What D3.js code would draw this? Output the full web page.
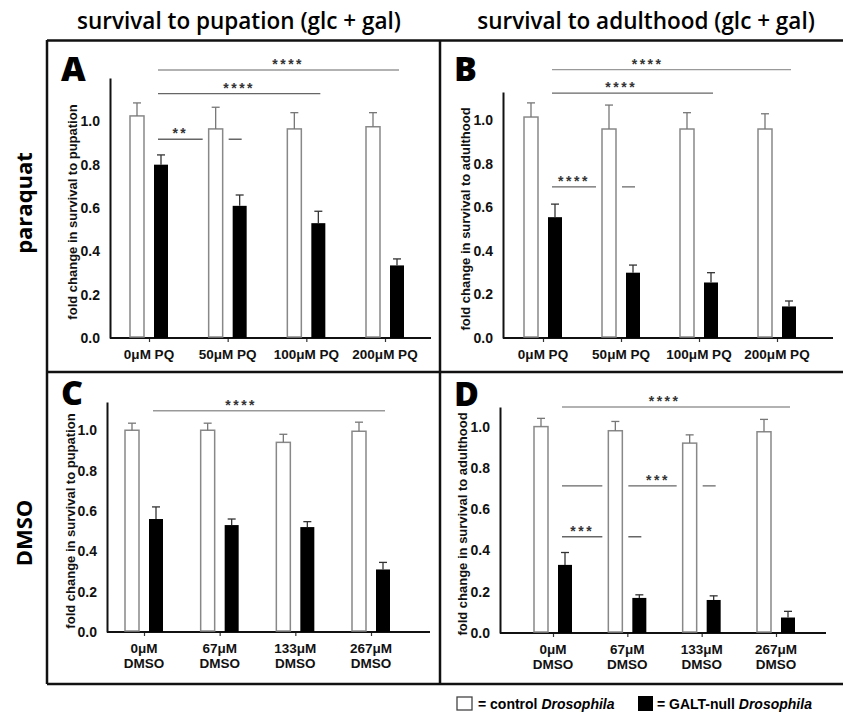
<!DOCTYPE html>
<html>
<head>
<meta charset="utf-8">
<script src="https://cdn.jsdelivr.net/npm/d3@7"></script>
<style>
body { margin: 0; background: #fff; }
</style>
</head>
<body>
<script>
//doses along the x axis
var pqDoses = ["0μM PQ", "50μM PQ", "100μM PQ", "200μM PQ"];
var dmsoDoses = ["0μM DMSO", "67μM DMSO", "133μM DMSO", "267μM DMSO"];
var yTicks = [0, 0.2, 0.4, 0.6, 0.8, 1.0];

//A: survival to pupation, paraquat
var pupPqCtrl = [1.025, 0.965, 0.965, 0.975];
var pupPqCtrlErr = [0.06, 0.10, 0.075, 0.065];
var pupPqNull = [0.80, 0.61, 0.53, 0.335];
var pupPqNullErr = [0.045, 0.05, 0.055, 0.03];

//B: survival to adulthood, paraquat
var adPqCtrl = [1.015, 0.96, 0.96, 0.96];
var adPqCtrlErr = [0.065, 0.11, 0.075, 0.07];
var adPqNull = [0.555, 0.30, 0.255, 0.145];
var adPqNullErr = [0.06, 0.035, 0.045, 0.025];

//C: survival to pupation, DMSO
var pupDmsoCtrl = [1.0, 1.0, 0.94, 0.995];
var pupDmsoCtrlErr = [0.035, 0.035, 0.04, 0.045];
var pupDmsoNull = [0.56, 0.53, 0.52, 0.31];
var pupDmsoNullErr = [0.06, 0.03, 0.027, 0.035];

//D: survival to adulthood, DMSO
var adDmsoCtrl = [1.0, 0.98, 0.92, 0.975];
var adDmsoCtrlErr = [0.04, 0.045, 0.04, 0.06];
var adDmsoNull = [0.33, 0.17, 0.16, 0.075];
var adDmsoNullErr = [0.06, 0.015, 0.02, 0.03];

//significance brackets (between GALT-null groups): from group, to group, level in y units
var sigA = [{from: 0, to: 3, level: 1.237, stars: "****"},
            {from: 0, to: 2, level: 1.128, stars: "****"},
            {from: 0, to: 1, level: 0.917, stars: "**"}];
var sigB = [{from: 0, to: 3, level: 1.233, stars: "****"},
            {from: 0, to: 2, level: 1.125, stars: "****"},
            {from: 0, to: 1, level: 0.694, stars: "****"}];
var sigC = [{from: 0, to: 3, level: 1.097, stars: "****"}];
var sigD = [{from: 0, to: 3, level: 1.095, stars: "****"},
            {from: 0, to: 2, level: 0.713, stars: "***"},
            {from: 0, to: 1, level: 0.466, stars: "***"}];

var W = 843, H = 713;
var ARIAL = "'Liberation Sans', Arial, sans-serif";
var SANS = "'Open Sans', sans-serif";

var svg = d3.select("body").append("svg")
    .attr("width", W)
    .attr("height", H)
    .attr("font-family", ARIAL);

//panel layout (pixels) kept apart from the data
var panels = [
    {letter: "A", cats: pqDoses, ctrl: pupPqCtrl, ctrlErr: pupPqCtrlErr, nul: pupPqNull, nulErr: pupPqNullErr, sig: sigA,
     starAt: [0.54, 0.5, {seg: 0}], yMax: 1.2, y0: 338, yTop: 78, x0: 110, x1: 431, inL: 39, inR: 46,
     title: "fold change in survival to pupation", titleX: 72, lx: 61, ly: 81},
    {letter: "B", cats: pqDoses, ctrl: adPqCtrl, ctrlErr: adPqCtrlErr, nul: adPqNull, nulErr: adPqNullErr, sig: sigB,
     starAt: [0.4, 0.43, {seg: 0}], yMax: 1.13, y0: 338, yTop: 92, x0: 503, x1: 833, inL: 40, inR: 56,
     title: "fold change in survival to adulthood", titleX: 465, lx: 454, ly: 81},
    {letter: "C", cats: dmsoDoses, ctrl: pupDmsoCtrl, ctrlErr: pupDmsoCtrlErr, nul: pupDmsoNull, nulErr: pupDmsoNullErr, sig: sigC,
     starAt: [0.38], yMax: 1.14, y0: 632, yTop: 402, x0: 107, x1: 430, inL: 37, inR: 59,
     title: "fold change in survival to pupation", titleX: 70, lx: 61, ly: 405},
    {letter: "D", cats: dmsoDoses, ctrl: adDmsoCtrl, ctrlErr: adDmsoCtrlErr, nul: adDmsoNull, nulErr: adDmsoNullErr, sig: sigD,
     starAt: [0.45, {seg: 1}, {seg: 0}], yMax: 1.095, y0: 633, yTop: 407, x0: 500, x1: 826, inL: 53, inR: 50,
     title: "fold change in survival to adulthood", titleX: 462, lx: 454, ly: 406}
];

panels.forEach(drawPanel);

function drawPanel(p){
    var y = d3.scaleLinear().domain([0, p.yMax]).range([p.y0, p.yTop]);
    var x = d3.scalePoint().domain(p.cats).range([p.x0 + p.inL, p.x1 - p.inR]);
    //offset of the two bars inside a group
    var sub = d3.scaleBand().domain(["ctrl", "nul"]).range([-19, 19]).paddingInner(0.4167);
    var bw = sub.bandwidth();

    var rows = p.cats.map(function(c, i){
        return {cat: c, ctrl: p.ctrl[i], ctrlErr: p.ctrlErr[i], nul: p.nul[i], nulErr: p.nulErr[i]};
    });

    var g = svg.append("g").attr("class", "panel");

    //y axis
    var ya = g.append("g")
        .attr("transform", "translate(" + p.x0 + ",0)")
        .call(d3.axisLeft(y).tickValues(yTicks).tickFormat(d3.format(".1f")).tickSize(0).tickPadding(10));
    ya.select(".domain").attr("stroke", "#111").attr("stroke-width", 2);
    ya.selectAll("text")
        .attr("font-family", ARIAL)
        .attr("font-size", 14)
        .attr("font-weight", "bold")
        .attr("fill", "#111");

    //x axis
    var xa = g.append("g")
        .attr("transform", "translate(0," + p.y0 + ")")
        .call(d3.axisBottom(x).tickSize(4).tickSizeOuter(0));
    xa.select(".domain").remove();
    xa.selectAll("line").attr("stroke", "#333").attr("stroke-width", 1.2);
    xa.selectAll("text").remove();
    g.append("line")
        .attr("x1", p.x0).attr("x2", p.x1)
        .attr("y1", p.y0).attr("y2", p.y0)
        .attr("stroke", "#111").attr("stroke-width", 2);

    //x labels, one or two lines
    var lab = g.selectAll(".xlab").data(rows).enter().append("text")
        .attr("class", "xlab")
        .attr("text-anchor", "middle")
        .attr("font-size", 13.5)
        .attr("font-weight", "bold")
        .attr("fill", "#111");
    lab.each(function(d){
        var parts = d.cat.indexOf("DMSO") >= 0 ? d.cat.split(" ") : [d.cat];
        var t = d3.select(this);
        parts.forEach(function(s, k){
            t.append("tspan")
                .attr("x", x(d.cat))
                .attr("y", p.y0 + 21 + k * 15)
                .text(s);
        });
    });

    //y axis title
    g.append("text")
        .attr("transform", "translate(" + p.titleX + "," + ((p.y0 + p.yTop) / 2 + 4) + ") rotate(-90)")
        .attr("text-anchor", "middle")
        .attr("dy", "0.35em")
        .attr("font-size", 13)
        .attr("font-weight", "bold")
        .attr("fill", "#111")
        .text(p.title);

    //panel letter
    g.append("text")
        .attr("x", p.lx)
        .attr("y", p.ly)
        .attr("font-family", SANS)
        .attr("font-size", 34)
        .attr("font-weight", 800)
        .text(p.letter);

    function nulCenter(i){ return x(p.cats[i]) + sub("nul") + bw / 2; }

    //significance lines (drawn behind the bars)
    p.sig.forEach(function(s, k){
        g.append("line")
            .attr("x1", nulCenter(s.from) - 3)
            .attr("x2", nulCenter(s.to) + 2)
            .attr("y1", y(s.level)).attr("y2", y(s.level))
            .attr("stroke", k == 0 ? "#999" : "#666")
            .attr("stroke-width", 1.4);
    });

    //white clearing round the control bars hides the lines that pass behind them
    g.selectAll(".clear").data(rows).enter().append("rect")
        .attr("x", function(d){ return x(d.cat) + sub("ctrl") - 6; })
        .attr("width", bw + 12)
        .attr("y", function(d){ return y(d.ctrl); })
        .attr("height", function(d){ return p.y0 - 1.5 - y(d.ctrl); })
        .attr("fill", "#fff");

    //control bars
    g.selectAll(".ctrl").data(rows).enter().append("rect")
        .attr("class", "ctrl")
        .attr("x", function(d){ return x(d.cat) + sub("ctrl"); })
        .attr("width", bw)
        .attr("y", function(d){ return y(d.ctrl); })
        .attr("height", function(d){ return p.y0 - 1 - y(d.ctrl); })
        .attr("fill", "#fff")
        .attr("stroke", "#888")
        .attr("stroke-width", 1.5);

    //GALT-null bars
    g.selectAll(".nul").data(rows).enter().append("rect")
        .attr("class", "nul")
        .attr("x", function(d){ return x(d.cat) + sub("nul"); })
        .attr("width", bw)
        .attr("y", function(d){ return y(d.nul); })
        .attr("height", function(d){ return p.y0 - y(d.nul); })
        .attr("fill", "#000");

    //error bars, upper half only
    [["ctrl", "ctrlErr", "#777"], ["nul", "nulErr", "#333"]].forEach(function(k){
        var eb = g.selectAll(".err-" + k[0]).data(rows).enter().append("g")
            .attr("stroke", k[2])
            .attr("stroke-width", 1.3);
        eb.append("line")
            .attr("x1", function(d){ return x(d.cat) + sub(k[0]) + bw / 2; })
            .attr("x2", function(d){ return x(d.cat) + sub(k[0]) + bw / 2; })
            .attr("y1", function(d){ return y(d[k[0]]); })
            .attr("y2", function(d){ return y(d[k[0]] + d[k[1]]); });
        eb.append("line")
            .attr("x1", function(d){ return x(d.cat) + sub(k[0]) + bw / 2 - 4; })
            .attr("x2", function(d){ return x(d.cat) + sub(k[0]) + bw / 2 + 4; })
            .attr("y1", function(d){ return y(d[k[0]] + d[k[1]]); })
            .attr("y2", function(d){ return y(d[k[0]] + d[k[1]]); });
    });

    //stars
    p.sig.forEach(function(s, k){
        var a = nulCenter(s.from) - 3, b = nulCenter(s.to) + 2;
        var pos = p.starAt[k], sx;
        if (typeof pos === "number"){
            sx = a + (b - a) * pos;
        } else {
            var i = s.from + pos.seg;
            var left = i == s.from ? a : nulCenter(i);
            sx = (left + x(p.cats[i + 1]) + sub("ctrl") - 6) / 2;
        }
        g.append("text")
            .attr("x", sx)
            .attr("y", y(s.level) - 1)
            .attr("text-anchor", "middle")
            .attr("font-size", 14)
            .attr("font-weight", "bold")
            .attr("letter-spacing", 2.5)
            .attr("fill", "#333")
            .text(s.stars);
    });
}

//outer frame
var frame = svg.append("g")
    .attr("stroke", "#111")
    .attr("stroke-width", 2.5);
[[47, 40.5, 843, 40.5], [47, 40, 47, 684], [47, 684, 843, 684], [440, 40, 440, 684], [47, 372, 843, 372]]
    .forEach(function(l){
        frame.append("line").attr("x1", l[0]).attr("y1", l[1]).attr("x2", l[2]).attr("y2", l[3]);
    });

//column headers
svg.selectAll(".head")
    .data(["survival to pupation (glc + gal)", "survival to adulthood (glc + gal)"])
    .enter().append("text")
    .attr("x", function(d, i){ return i == 0 ? 239 : 646; })
    .attr("y", 29)
    .attr("text-anchor", "middle")
    .attr("font-family", SANS)
    .attr("font-size", 22.5)
    .attr("font-weight", 600)
    .text(function(d){ return d; });

//row headers
svg.selectAll(".row")
    .data(["paraquat", "DMSO"])
    .enter().append("text")
    .attr("transform", function(d, i){ return "translate(32," + (i == 0 ? 203 : 533) + ") rotate(-90)"; })
    .attr("text-anchor", "middle")
    .attr("font-family", SANS)
    .attr("font-size", 22)
    .attr("font-weight", "bold")
    .text(function(d){ return d; });

//legend
var legend = svg.append("g").attr("font-size", 14).attr("font-weight", "bold");
legend.append("rect").attr("x", 457).attr("y", 697).attr("width", 15).attr("height", 13)
    .attr("fill", "#fff").attr("stroke", "#444").attr("stroke-width", 1.3);
var t1 = legend.append("text").attr("x", 478).attr("y", 709);
t1.append("tspan").text("= control ");
t1.append("tspan").attr("font-style", "italic").text("Drosophila");
legend.append("rect").attr("x", 638).attr("y", 696).attr("width", 15).attr("height", 15).attr("fill", "#000");
var t2 = legend.append("text").attr("x", 657).attr("y", 709);
t2.append("tspan").text("= GALT-null ");
t2.append("tspan").attr("font-style", "italic").text("Drosophila");
</script>
</body>
</html>
